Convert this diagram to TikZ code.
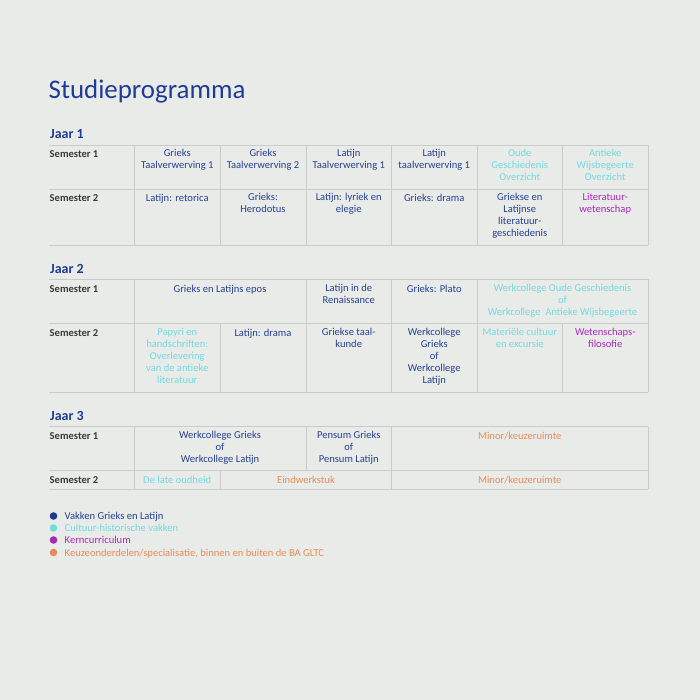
\documentclass[tikz,border=0pt]{standalone}
\usepackage{fontspec}
\setmainfont{Carlito}
\definecolor{bggray}{HTML}{E9EBE9}
\definecolor{rulegray}{HTML}{C9CCC9}
\definecolor{gltcblue}{HTML}{26418F}
\definecolor{titleblue}{HTML}{1F3C94}
\definecolor{cultcyan}{HTML}{72DAE1}
\definecolor{kernpurple}{HTML}{A62AB8}
\definecolor{keuzeorange}{HTML}{E48D58}
\definecolor{semgray}{HTML}{3A3A3A}
\newcommand{\cellfont}{\fontsize{10.6}{12}\selectfont}
\tikzset{
  cell/.style={anchor=north, align=center, font=\cellfont, text=gltcblue, execute at begin node=\strut},
  semlabel/.style={anchor=north west, font=\cellfont\bfseries, text=semgray, execute at begin node=\strut},
  jaarlabel/.style={anchor=base west, font=\fontsize{14}{16}\selectfont\bfseries, text=titleblue},
  grid/.style={rulegray, line width=0.8bp},
  legdot/.style={circle, minimum size=7.6bp},
  legtext/.style={anchor=base west, font=\cellfont}
}
\begin{document}
\begin{tikzpicture}[x=1bp, y=-1bp]
                \tikzstyle{every node}+=[inner sep=0pt]
                \fill [bggray] (0,0) rectangle (700,700);
                \useasboundingbox (0,0) rectangle (700,700);
                \draw (48.5,98.3) node[anchor=base west, font=\fontsize{27}{30}\selectfont, text=titleblue] (title) {Studieprogramma};
                % Jaar 1
                \draw (50,139) node[jaarlabel] (jaar1) {Jaar 1};
                \draw [grid] (49,145) -- (648,145);
                \draw [grid] (49,189) -- (648,189);
                \draw [grid] (49,245) -- (648,245);
                \draw [grid] (134.5,145) -- (134.5,245);
                \draw [grid] (220,145) -- (220,245);
                \draw [grid] (306,145) -- (306,245);
                \draw [grid] (391.5,145) -- (391.5,245);
                \draw [grid] (477,145) -- (477,245);
                \draw [grid] (562.5,145) -- (562.5,245);
                \draw [grid] (648,145) -- (648,245);
                \draw (49.5,149.3) node[semlabel] (j1s1) {Semester 1};
                \draw (177.25,149.3) node[cell] (j1s1a) {Grieks\\Taalverwerving 1};
                \draw (263,149.3) node[cell] (j1s1b) {Grieks\\Taalverwerving 2};
                \draw (348.75,149.3) node[cell] (j1s1c) {Latijn\\Taalverwerving 1};
                \draw (434.25,149.3) node[cell] (j1s1d) {Latijn\\taalverwerving 1};
                \draw (519.75,149.3) node[cell, text=cultcyan] (j1s1e) {Oude\\Geschiedenis\\Overzicht};
                \draw (605.25,149.3) node[cell, text=cultcyan] (j1s1f) {Antieke\\Wijsbegeerte\\Overzicht};
                \draw (49.5,193.3) node[semlabel] (j1s2) {Semester 2};
                \draw (177.25,193.3) node[cell] (j1s2a) {Latijn: retorica};
                \draw (263,193.3) node[cell] (j1s2b) {Grieks:\\Herodotus};
                \draw (348.75,193.3) node[cell] (j1s2c) {Latijn: lyriek en\\elegie};
                \draw (434.25,193.3) node[cell] (j1s2d) {Grieks: drama};
                \draw (519.75,193.3) node[cell] (j1s2e) {Griekse en\\Latijnse\\literatuur-\\geschiedenis};
                \draw (605.25,193.3) node[cell, text=kernpurple] (j1s2f) {Literatuur-\\wetenschap};
                % Jaar 2
                \draw (50,273.5) node[jaarlabel] (jaar2) {Jaar 2};
                \draw [grid] (49,279.3) -- (648,279.3);
                \draw [grid] (49,323.7) -- (648,323.7);
                \draw [grid] (49,392.3) -- (648,392.3);
                \draw [grid] (134.5,279.3) -- (134.5,392.3);
                \draw [grid] (220,323.7) -- (220,392.3);
                \draw [grid] (306,279.3) -- (306,392.3);
                \draw [grid] (391.5,279.3) -- (391.5,392.3);
                \draw [grid] (477,279.3) -- (477,392.3);
                \draw [grid] (562.5,323.7) -- (562.5,392.3);
                \draw [grid] (648,279.3) -- (648,392.3);
                \draw (49.5,283.6) node[semlabel] (j2s1) {Semester 1};
                \draw (220,283.6) node[cell] (j2s1a) {Grieks en Latijns epos};
                \draw (348.75,283.6) node[cell] (j2s1b) {Latijn in de\\Renaissance};
                \draw (434.25,283.6) node[cell] (j2s1c) {Grieks: Plato};
                \draw (562.5,283.6) node[cell, text=cultcyan] (j2s1d) {Werkcollege Oude Geschiedenis\\of\\Werkcollege\ \ Antieke Wijsbegeerte};
                \draw (49.5,328) node[semlabel] (j2s2) {Semester 2};
                \draw (177.25,328) node[cell, text=cultcyan] (j2s2a) {Papyri en\\handschriften:\\Overlevering\\van de antieke\\literatuur};
                \draw (263,328) node[cell] (j2s2b) {Latijn: drama};
                \draw (348.75,328) node[cell] (j2s2c) {Griekse taal-\\kunde};
                \draw (434.25,328) node[cell] (j2s2d) {Werkcollege\\Grieks\\of\\Werkcollege\\Latijn};
                \draw (519.75,328) node[cell, text=cultcyan] (j2s2e) {Materiële cultuur\\en excursie};
                \draw (605.25,328) node[cell, text=kernpurple] (j2s2f) {Wetenschaps-\\filosofie};
                % Jaar 3
                \draw (50,420) node[jaarlabel] (jaar3) {Jaar 3};
                \draw [grid] (49,426.7) -- (648,426.7);
                \draw [grid] (49,470.7) -- (648,470.7);
                \draw [grid] (49,489.3) -- (648,489.3);
                \draw [grid] (134.5,426.7) -- (134.5,489.3);
                \draw [grid] (220,470.7) -- (220,489.3);
                \draw [grid] (306,426.7) -- (306,470.7);
                \draw [grid] (391.5,426.7) -- (391.5,489.3);
                \draw [grid] (648,426.7) -- (648,489.3);
                \draw (49.5,431) node[semlabel] (j3s1) {Semester 1};
                \draw (220,431) node[cell] (j3s1a) {Werkcollege Grieks\\of\\Werkcollege Latijn};
                \draw (348.75,431) node[cell] (j3s1b) {Pensum Grieks\\of\\Pensum Latijn};
                \draw (519.75,431) node[cell, text=keuzeorange] (j3s1c) {Minor/keuzeruimte};
                \draw (49.5,475) node[semlabel] (j3s2) {Semester 2};
                \draw (177.25,475) node[cell, text=cultcyan] (j3s2a) {De late oudheid};
                \draw (306,475) node[cell, text=keuzeorange] (j3s2b) {Eindwerkstuk};
                \draw (519.75,475) node[cell, text=keuzeorange] (j3s2c) {Minor/keuzeruimte};
                % legenda
                \draw (53.5,516) node[legdot, fill=titleblue] (dotblue) {};
                \draw (64.5,519.5) node[legtext, text=gltcblue] (legblue) {Vakken Grieks en Latijn};
                \draw (53.5,528) node[legdot, fill=cultcyan] (dotcyan) {};
                \draw (64.5,531.5) node[legtext, text=cultcyan] (legcyan) {Cultuur-historische vakken};
                \draw (53.5,540) node[legdot, fill=kernpurple] (dotpurple) {};
                \draw (64.5,543.5) node[legtext, text=kernpurple] (legpurple) {Kerncurriculum};
                \draw (53.5,552.5) node[legdot, fill=keuzeorange] (dotorange) {};
                \draw (64.5,556) node[legtext, text=keuzeorange] (legorange) {Keuzeonderdelen/specialisatie, binnen en buiten de BA GLTC};
            \end{tikzpicture}
\end{document}
